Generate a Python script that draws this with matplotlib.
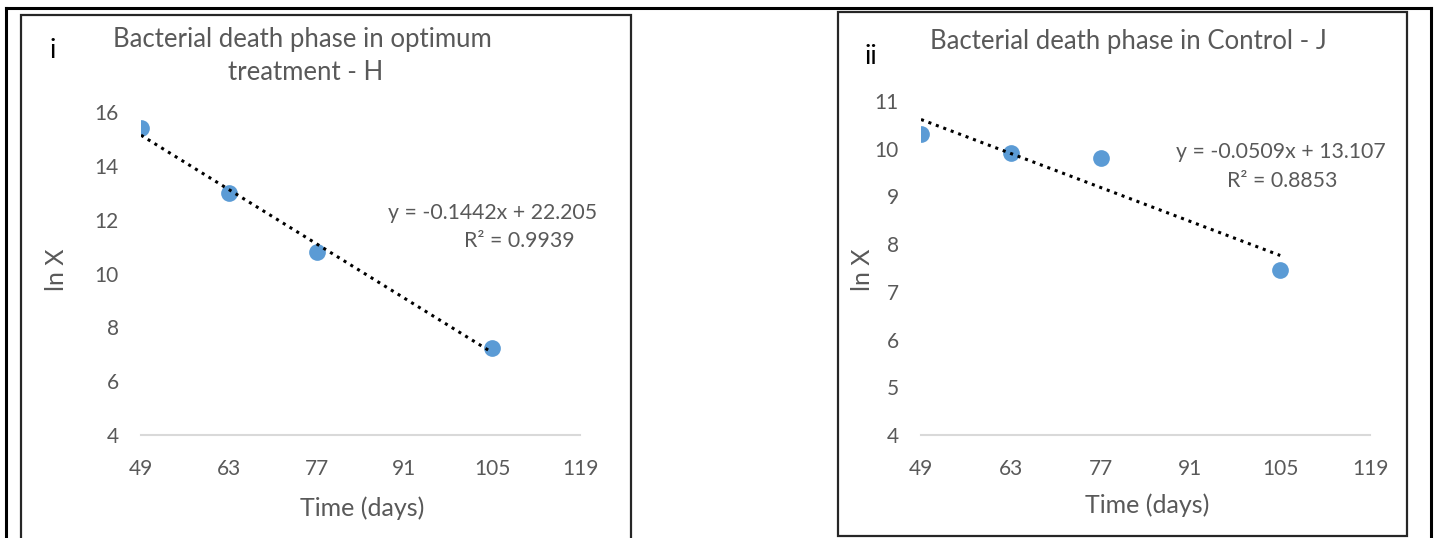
import matplotlib
matplotlib.use("Agg")
import matplotlib.pyplot as plt
from matplotlib.lines import Line2D
from matplotlib.patches import Rectangle

plt.rcParams["font.family"] = ["Lato", "DejaVu Sans"]

# panel i - optimum treatment H
days_h = [49, 63, 77, 105]
lnx_h = [15.4, 13.0, 10.8, 7.25]
slope_h, icept_h = -0.1442, 22.205
eq_h = "y = -0.1442x + 22.205"
r2_h = "R² = 0.9939"

# panel ii - control J
days_j = [49, 63, 77, 105]
lnx_j = [10.3, 9.91, 9.8, 7.46]
slope_j, icept_j = -0.0509, 13.107
eq_j = "y = -0.0509x + 13.107"
r2_j = "R² = 0.8853"

x_ticks = [49, 63, 77, 91, 105, 119]
y_ticks_h = [4, 6, 8, 10, 12, 14, 16]
y_ticks_j = [4, 5, 6, 7, 8, 9, 10, 11]

W, H = 1437, 538
grey = "#595959"
blue = "#5B9BD5"

fig = plt.figure(figsize=(W / 100, H / 100), dpi=100)


def px(x, y):
    # pixel coords (from top-left) -> figure fraction
    return x / W, 1 - y / H


def panel(rect, days, vals, slope, icept, yticks, eq, r2, eq_xy, r2_xy):
    ax = fig.add_axes(rect)
    ax.scatter(days, vals, s=145, color=blue, zorder=3, linewidths=0)
    xs = [days[0], days[-1]]
    ax.plot(xs, [slope * x + icept for x in xs], color="black",
            linestyle=(0, (1, 1.6)), linewidth=2.2, zorder=4)
    ax.set_xlim(x_ticks[0], x_ticks[-1])
    ax.set_ylim(yticks[0], yticks[-1])
    ax.set_xticks(x_ticks)
    ax.set_yticks(yticks)
    for s in ["top", "right", "left"]:
        ax.spines[s].set_visible(False)
    ax.spines["bottom"].set_color("#D9D9D9")
    ax.spines["bottom"].set_linewidth(1.5)
    ax.tick_params(length=0, labelsize=15, labelcolor=grey)
    ax.tick_params(axis="x", pad=17)
    ax.tick_params(axis="y", pad=16)
    ax.set_facecolor("none")
    ax.text(*eq_xy, eq, transform=fig.transFigure, ha="right", va="center",
            fontsize=15.3, color=grey)
    ax.text(*r2_xy, r2, transform=fig.transFigure, ha="right", va="center",
            fontsize=15.3, color=grey)
    return ax


ax1 = panel([141 / W, 103 / H, 439 / W, 323 / H], days_h, lnx_h, slope_h, icept_h,
            y_ticks_h, eq_h, r2_h, px(597, 213), px(575, 241))
ax2 = panel([921 / W, 103 / H, 449 / W, 334 / H], days_j, lnx_j, slope_j, icept_j,
            y_ticks_j, eq_j, r2_j, px(1386, 152), px(1337, 181))

# titles, labels
fig.text(*px(302, 40), "Bacterial death phase in optimum", ha="center", va="center",
         fontsize=18.5, color=grey)
fig.text(*px(306, 72), "treatment - H", ha="center", va="center", fontsize=18.5, color=grey)
fig.text(*px(1128, 42), "Bacterial death phase in Control - J", ha="center", va="center",
         fontsize=18.5, color=grey)
fig.text(*px(53, 50), "i", ha="center", va="center", fontsize=19, color="black")
fig.text(*px(871, 56), "ii", ha="center", va="center", fontsize=19, color="black")

fig.text(*px(57, 270), "ln X", ha="center", va="center", rotation=90, fontsize=18, color=grey)
fig.text(*px(862, 270), "ln X", ha="center", va="center", rotation=90, fontsize=18, color=grey)
fig.text(*px(362, 508), "Time (days)", ha="center", va="center", fontsize=18, color=grey)
fig.text(*px(1147, 505), "Time (days)", ha="center", va="center", fontsize=18, color=grey)

# table borders
for xs, ys in [([6, 1431], [8, 8]), ([6, 6], [8, 538]), ([1431, 1431], [8, 538])]:
    fig.add_artist(Line2D([x / W for x in xs], [1 - y / H for y in ys],
                          color="black", linewidth=2.2))
# chart boxes
for x0, y0, x1, y1 in [(21, 15, 631, 545), (838, 12, 1407, 536)]:
    fig.add_artist(Rectangle((x0 / W, 1 - y1 / H), (x1 - x0) / W, (y1 - y0) / H,
                             transform=fig.transFigure, fill=False,
                             edgecolor="#262626", linewidth=1.6))

fig.savefig("out.png", dpi=100)
